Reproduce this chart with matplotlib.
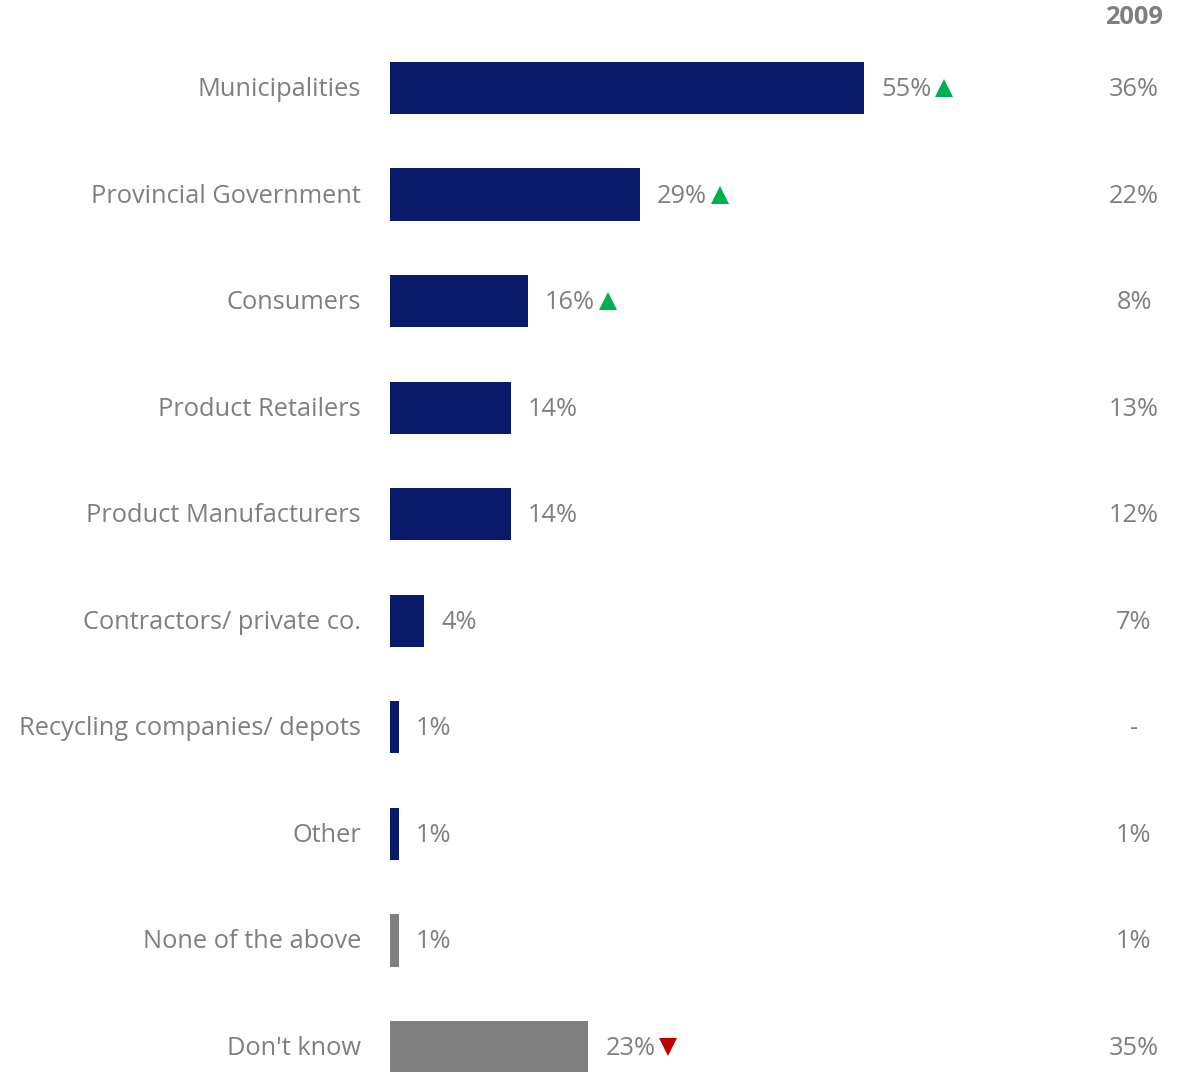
import matplotlib
matplotlib.use("Agg")
import matplotlib.pyplot as plt
from matplotlib.transforms import blended_transform_factory, offset_copy

categories = ["Municipalities", "Provincial Government", "Consumers",
              "Product Retailers", "Product Manufacturers",
              "Contractors/ private co.", "Recycling companies/ depots",
              "Other", "None of the above", "Don't know"]
values = [55, 29, 16, 14, 14, 4, 1, 1, 1, 23]
value_labels = ["55%", "29%", "16%", "14%", "14%", "4%", "1%", "1%", "1%", "23%"]
prior_labels = ["36%", "22%", "8%", "13%", "12%", "7%", "-", "1%", "1%", "35%"]
prior_header = "2009"
# +1 significant increase, -1 significant decrease, 0 none
change = [1, 1, 1, 0, 0, 0, 0, 0, 0, -1]

NAVY = "#0A1A6A"
GREY_BAR = "#808080"
TEXT = "#7F7F7F"
UP = "#00B050"
DOWN = "#C00000"
FONT = "Open Sans"

W, H = 1177, 1072
fig = plt.figure(figsize=(W / 100, H / 100), dpi=100)
ax = fig.add_axes([390 / W, 0, (W - 390) / W, 1])
ax.set_xlim(0, (W - 390) / 8.62)
ax.set_ylim(9.235, -0.826)
ax.axis("off")

colors = [NAVY] * 8 + [GREY_BAR] * 2
ypos = list(range(len(categories)))
ax.barh(ypos, values, height=0.49, color=colors, left=0)

fs = 18.3
trans_lab = offset_copy(ax.transData, fig=fig, x=-29, y=-1.5, units="dots")
col_trans = blended_transform_factory(fig.transFigure, ax.transData)
col_trans = offset_copy(col_trans, fig=fig, x=0, y=-1.5, units="dots")

fig.canvas.draw()
renderer = fig.canvas.get_renderer()
for y, cat, v, lab, prior, ch in zip(ypos, categories, values, value_labels,
                                      prior_labels, change):
    ax.text(0, y, cat, transform=trans_lab, ha="right", va="center",
            fontsize=fs, color=TEXT, family=FONT)
    vt = ax.text(v, y, lab,
                 transform=offset_copy(ax.transData, fig=fig, x=17, y=-1.5, units="dots"),
                 ha="left", va="center", fontsize=fs, color=TEXT, family=FONT)
    ax.text(1134 / W, y, prior, transform=col_trans, ha="center", va="center",
            fontsize=fs, color=TEXT, family=FONT)
    if ch != 0:
        bb = vt.get_window_extent(renderer=renderer)
        px = bb.x1 + 13
        py = ax.transData.transform((0, y))[1]
        ax.plot([px], [py], marker="^" if ch > 0 else "v", markersize=13,
                color=UP if ch > 0 else DOWN, transform=None, clip_on=False,
                markeredgewidth=0)

fig.text(1134 / W, 1 - 18 / H, prior_header, ha="center", va="center",
         fontsize=fs, color=TEXT, family=FONT, fontweight="bold")

fig.savefig("out.png", dpi=100)
